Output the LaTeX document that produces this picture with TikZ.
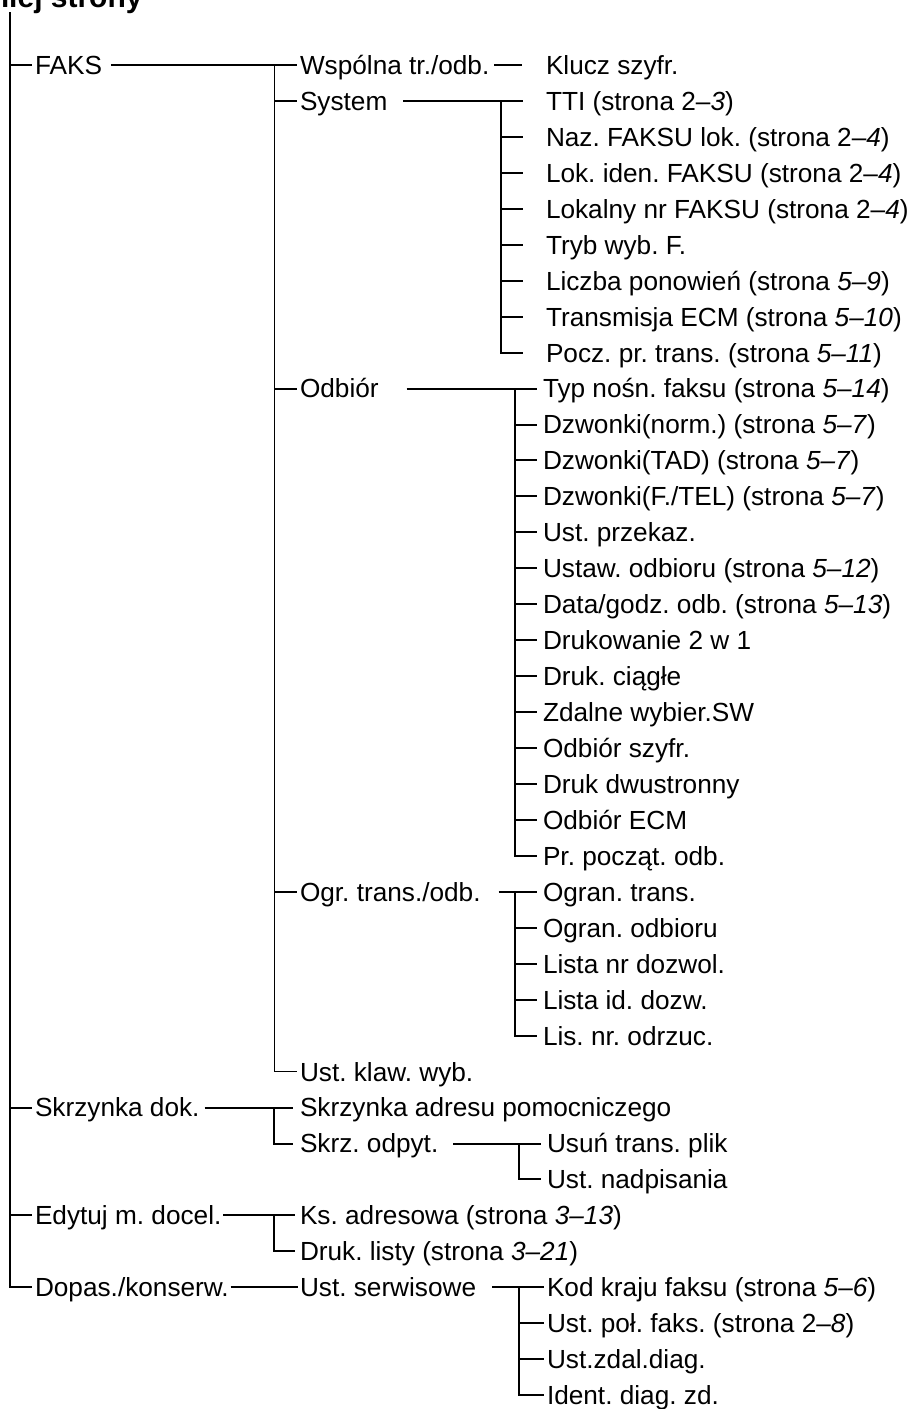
\documentclass[tikz,border=0pt]{standalone}
\usepackage{fontspec}
\setmainfont{Liberation Sans}
\usepackage{tikz}
\usetikzlibrary{positioning}
\frenchspacing
% row positions of the menu tree
\newcommand{\rw}[1]{65+35.95*#1}

\begin{document}
\begin{tikzpicture}[
    x=0.5pt, y=-0.5pt,
    item/.style={anchor=west, inner sep=0pt, outer sep=0pt, text height=9.4pt, text depth=0pt, font=\fontsize{13.1}{15}\selectfont},
    br/.style={line width=1pt},
    thinbr/.style={line width=0.5pt}
]
\useasboundingbox (0,0) rectangle (917,1409);

\node[anchor=base east, inner sep=0pt, font=\fontsize{15}{18}\selectfont\bfseries] (title) at (143,7) {niej strony};

% level 0
\node[item] (faks) at (35,{\rw{0}}) {FAKS};
\node[item] (skrzdok) at (35,{\rw{29}}) {Skrzynka dok.};
\node[item] (edytuj) at (35,{\rw{32}}) {Edytuj m. docel.};
\node[item] (dopas) at (35,{\rw{34}}) {Dopas./konserw.};

% level 1
\node[item] (wspolna) at (300,{\rw{0}}) {Wspólna tr./odb.};
\node[item] (system) at (300,{\rw{1}}) {System};
\node[item] (odbior) at (300,{\rw{9}}) {Odbiór};
\node[item] (ogr) at (300,{\rw{23}}) {Ogr. trans./odb.};
\node[item] (klaw) at (300,{\rw{28}}) {Ust. klaw. wyb.};
\node[item] (skrzadr) at (300,{\rw{29}}) {Skrzynka adresu pomocniczego};
\node[item] (skrzodp) at (300,{\rw{30}}) {Skrz. odpyt.};
\node[item] (ksadr) at (300,{\rw{32}}) {Ks. adresowa (strona \textit{3--13})};
\node[item] (drlisty) at (300,{\rw{33}}) {Druk. listy (strona \textit{3--21})};
\node[item] (serwis) at (300,{\rw{34}}) {Ust. serwisowe};

% level 2
\node[item] (klucz) at (546,{\rw{0}}) {Klucz szyfr.};
\node[item] (tti) at (546,{\rw{1}}) {TTI (strona 2--\textit{3})};
\node[item] (naz) at (546,{\rw{2}}) {Naz. FAKSU lok. (strona 2--\textit{4})};
\node[item] (lokiden) at (546,{\rw{3}}) {Lok. iden. FAKSU (strona 2--\textit{4})};
\node[item] (lokalny) at (546,{\rw{4}}) {Lokalny nr FAKSU (strona 2--\textit{4})};
\node[item] (tryb) at (546,{\rw{5}}) {Tryb wyb. F.};
\node[item] (liczba) at (546,{\rw{6}}) {Liczba ponowień (strona \textit{5--9})};
\node[item] (transm) at (546,{\rw{7}}) {Transmisja ECM (strona \textit{5--10})};
\node[item] (pocz) at (546,{\rw{8}}) {Pocz. pr. trans. (strona \textit{5--11})};

\node[item] (typ) at (543,{\rw{9}}) {Typ nośn. faksu (strona \textit{5--14})};
\node[item] (dzn) at (543,{\rw{10}}) {Dzwonki(norm.) (strona \textit{5--7})};
\node[item] (dztad) at (543,{\rw{11}}) {Dzwonki(TAD) (strona \textit{5--7})};
\node[item] (dzftel) at (543,{\rw{12}}) {Dzwonki(F./TEL) (strona \textit{5--7})};
\node[item] (przekaz) at (543,{\rw{13}}) {Ust. przekaz.};
\node[item] (ustodb) at (543,{\rw{14}}) {Ustaw. odbioru (strona \textit{5--12})};
\node[item] (datagodz) at (543,{\rw{15}}) {Data/godz. odb. (strona \textit{5--13})};
\node[item] (druk2w1) at (543,{\rw{16}}) {Drukowanie 2 w 1};
\node[item] (drukciag) at (543,{\rw{17}}) {Druk. ciągłe};
\node[item] (zdalne) at (543,{\rw{18}}) {Zdalne wybier.SW};
\node[item] (odbszyfr) at (543,{\rw{19}}) {Odbiór szyfr.};
\node[item] (drukdwu) at (543,{\rw{20}}) {Druk dwustronny};
\node[item] (odbecm) at (543,{\rw{21}}) {Odbiór ECM};
\node[item] (prpocz) at (543,{\rw{22}}) {Pr. począt. odb.};

\node[item] (ogrtr) at (543,{\rw{23}}) {Ogran. trans.};
\node[item] (ogrodb) at (543,{\rw{24}}) {Ogran. odbioru};
\node[item] (listanr) at (543,{\rw{25}}) {Lista nr dozwol.};
\node[item] (listaid) at (543,{\rw{26}}) {Lista id. dozw.};
\node[item] (lisodrz) at (543,{\rw{27}}) {Lis. nr. odrzuc.};

\node[item] (usun) at (547,{\rw{30}}) {Usuń trans. plik};
\node[item] (nadpis) at (547,{\rw{31}}) {Ust. nadpisania};

\node[item] (kodkraju) at (547,{\rw{34}}) {Kod kraju faksu (strona \textit{5--6})};
\node[item] (ustpol) at (547,{\rw{35}}) {Ust. poł. faks. (strona 2--\textit{8})};
\node[item] (zdaldiag) at (547,{\rw{36}}) {Ust.zdal.diag.};
\node[item] (identdiag) at (547,{\rw{37}}) {Ident. diag. zd.};

% vertical rails
\coordinate (top) at (10,12);
\coordinate (v1) at (274,0);
\coordinate (v2) at (501,0);
\coordinate (v3) at (515,0);
\coordinate (v4) at (519,0);

% root
\draw[br] (top) |- ([xshift=-1.5pt]dopas.west);
\foreach \n in {faks,skrzdok,edytuj}
    \draw[br] (top |- \n.west) -- ([xshift=-1.5pt]\n.west);

% FAKS
\draw[br] ([xshift=4.5pt]faks.east) -- ([xshift=-1.5pt]wspolna.west);
\draw[thinbr] (v1 |- wspolna.west) |- ([xshift=-1.5pt]klaw.west);
\foreach \n in {system,odbior,ogr}
    \draw[br] (v1 |- \n.west) -- ([xshift=-1.5pt]\n.west);

\draw[br] ([xshift=2.5pt]wspolna.east) -- ([xshift=-12pt]klucz.west);

% System
\draw[br] ([xshift=8pt]system.east) -- ([xshift=-11.5pt]tti.west);
\draw[br] (v2 |- tti.west) |- ([xshift=-11.5pt]pocz.west);
\foreach \n in {naz,lokiden,lokalny,tryb,liczba,transm}
    \draw[br] (v2 |- \n.west) -- ([xshift=-11.5pt]\n.west);

% Odbior
\draw[br] ([xshift=14pt]odbior.east) -- ([xshift=-3pt]typ.west);
\draw[br] (v3 |- typ.west) |- ([xshift=-3pt]prpocz.west);
\foreach \n in {dzn,dztad,dzftel,przekaz,ustodb,datagodz,druk2w1,drukciag,zdalne,odbszyfr,drukdwu,odbecm}
    \draw[br] (v3 |- \n.west) -- ([xshift=-3pt]\n.west);

% Ogr. trans./odb.
\draw[br] ([xshift=9pt]ogr.east) -- ([xshift=-3pt]ogrtr.west);
\draw[br] (v3 |- ogrtr.west) |- ([xshift=-3pt]lisodrz.west);
\foreach \n in {ogrodb,listanr,listaid}
    \draw[br] (v3 |- \n.west) -- ([xshift=-3pt]\n.west);

% Skrzynka dok.
\draw[br] ([xshift=2.5pt]skrzdok.east) -- ([xshift=-3.5pt]skrzadr.west);
\draw[br] (v1 |- skrzadr.west) |- ([xshift=-3.5pt]skrzodp.west);
\draw[br] ([xshift=7.5pt]skrzodp.east) -- ([xshift=-3pt]usun.west);
\draw[br] (v4 |- usun.west) |- ([xshift=-3pt]nadpis.west);

% Edytuj m. docel.
\draw[br] ([xshift=1pt]edytuj.east) -- ([xshift=-2.5pt]ksadr.west);
\draw[br] (v1 |- ksadr.west) |- ([xshift=-2.5pt]drlisty.west);

% Dopas./konserw.
\draw[br] ([xshift=1pt]dopas.east) -- ([xshift=-1pt]serwis.west);
\draw[br] ([xshift=8pt]serwis.east) -- ([xshift=-1.5pt]kodkraju.west);
\draw[br] (v4 |- kodkraju.west) |- ([xshift=-1.5pt]identdiag.west);
\foreach \n in {ustpol,zdaldiag}
    \draw[br] (v4 |- \n.west) -- ([xshift=-1.5pt]\n.west);
\end{tikzpicture}
\end{document}
